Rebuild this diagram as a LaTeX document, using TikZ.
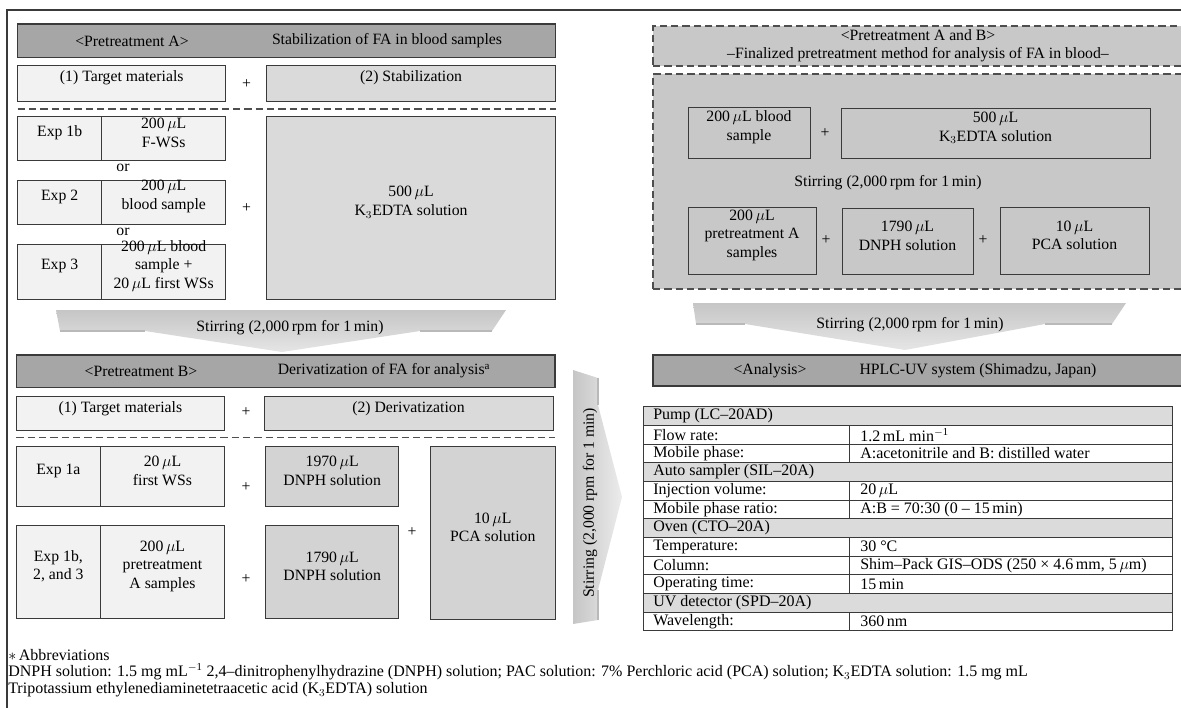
\documentclass[tikz,border=0pt]{standalone}
\usepackage{fontspec}
\setmainfont{Liberation Serif}
\usetikzlibrary{fit}
\definecolor{hdr}{HTML}{A6A6A6}
\definecolor{lite}{HTML}{F2F2F2}
\definecolor{mid}{HTML}{DADADA}
\definecolor{midd}{HTML}{D3D3D3}
\definecolor{panel}{HTML}{C8C8C8}
\definecolor{rowg}{HTML}{DBDBDB}
\definecolor{edge}{HTML}{3A3A3A}
\newcommand\muL{\,$\mu$L}
\begin{document}
\begin{tikzpicture}[x=0.75pt,y=-0.75pt,
  font=\fontsize{11.8}{14}\selectfont,
  bx/.style={draw=edge, line width=0.75pt, inner sep=0pt, align=center},
  hdrbox/.style={bx, fill=hdr, line width=0.9pt},
  litebox/.style={bx, fill=lite},
  midbox/.style={bx, fill=mid},
  darkbox/.style={bx, fill=midd},
  openbox/.style={bx},
  dashbox/.style={draw=edge!90, line width=0.9pt, dash pattern=on 5.5pt off 3pt, fill=panel, inner sep=0pt},
  sepline/.style={draw=edge!90, line width=0.9pt, dash pattern=on 5.5pt off 3pt},
  txt/.style={inner sep=0pt, align=center},
  cell/.style={inner sep=0pt, anchor=west, font=\fontsize{12}{14}\selectfont},
  wing/.style={draw=gray!55, line width=1.2pt},
  tline/.style={draw=edge, line width=0.6pt}
]
\useasboundingbox (0,0) rectangle (1181,707);
\clip (0,0) rectangle (1181,707);

% frame
\draw[edge, line width=0.9pt] (7,712) -- (7,10) -- (1190,10);

% ---------- Pretreatment A ----------
\node[hdrbox, fit={(17.7,24) (555.8,57.7)}] (hA) {};
\node[txt] (hAl) at (132,41) {<Pretreatment A>};
\node[txt] (hAr) at (387,41) {Stabilization of FA in blood samples};
\node[litebox, fit={(17.7,65.7) (225.8,101)}] (tmA) {(1) Target materials};
\node[txt] (pA1) at (246.5,84) {+};
\node[midbox, fit={(266.4,65.7) (555.8,101)}] (stA) {(2) Stabilization};
\draw[sepline] (17.7,109) -- (555.8,109);
\node[litebox, fit={(17.7,116) (101.6,160)}] (e1b) {Exp 1b};
\node[litebox, fit={(101.6,116) (225.8,160)}] (e1bv) {200\muL\\F-WSs};
\node[txt] (or1) at (123,168) {or};
\node[litebox, fit={(17.7,180) (101.6,224)}] (e2) {Exp 2};
\node[litebox, fit={(101.6,180) (225.8,224)}] (e2v) {200\muL\\blood sample};
\node[txt] (or2) at (123,232) {or};
\node[litebox, fit={(17.7,244) (101.6,299)}] (e3) {Exp 3};
\node[litebox, fit={(101.6,244) (225.8,299)}] (e3v) {200\muL{} blood\\sample +\\20\muL{} first WSs};
\node[txt] (pA2) at (246.5,208) {+};
\node[midbox, fit={(266.4,116) (555.8,299)}] (k3A) {500\muL\\K$_3$EDTA solution};

% chevron 1
\shade[top color=gray!45, middle color=white, bottom color=gray!20]
  (56,310) -- (506,310) -- (492,331) -- (420,331) -- (282,352) -- (145,331) -- (60,331) -- cycle;
\draw[wing] (60,331) -- (145,331);
\draw[wing] (420,331) -- (492,331);
\node[txt] (st1) at (290,328) {Stirring (2,000\,rpm for 1\,min)};

% ---------- Pretreatment B ----------
\node[hdrbox, fit={(16.3,355) (555,387.3)}] (hB) {};
\node[txt] (hBl) at (141,371) {<Pretreatment B>};
\node[txt] (hBr) at (384,371) {Derivatization of FA for analysis\textsuperscript{a}};
\node[litebox, fit={(16.3,396.7) (224.5,430.7)}] (tmB) {(1) Target materials};
\node[txt] (pB1) at (246,412) {+};
\node[midbox, fit={(264,396.7) (553,430.7)}] (dvB) {(2) Derivatization};
\draw[sepline] (16.3,437.3) -- (555,437.3);
\node[litebox, fit={(16.3,446) (100.4,506.7)}] (e1a) {Exp 1a};
\node[litebox, fit={(100.4,446) (224.5,506.7)}] (e1av) {20\muL\\first WSs};
\node[litebox, fit={(16.3,525) (100.4,618.3)}] (e123) {Exp 1b,\\2, and 3};
\node[litebox, fit={(100.4,525) (224.5,618.3)}] (e123v) {200\muL\\pretreatment\\A samples};
\node[txt] (pB2) at (246,487) {+};
\node[txt] (pB3) at (246,579) {+};
\node[darkbox, fit={(265.7,446) (398.7,506.7)}] (dn1) {1970\muL\\DNPH solution};
\node[darkbox, fit={(265.7,525) (398.7,618.3)}] (dn2) {1790\muL\\DNPH solution};
\node[txt] (pB4) at (412,532) {+};
\node[darkbox, fit={(430.5,446) (555,619)}] (pcaB) {10\muL\\PCA solution};

% vertical chevron
\shade[left color=gray!45, middle color=white, right color=gray!15]
  (573,370) -- (598,378) -- (598,405) -- (622,497) -- (598,590) -- (598,620) -- (573,624) -- cycle;
\draw[wing] (598,378) -- (598,405);
\draw[wing] (598,590) -- (598,620);
\node[txt, rotate=90] (st2) at (590,503) {Stirring (2,000 rpm for 1 min)};

% ---------- Pretreatment A and B ----------
\node[dashbox, fit={(653,26) (1184,66)}] (hAB) {};
\node[txt] (hAB1) at (918,35) {<Pretreatment A and B>};
\node[txt] (hAB2) at (918,55) {–Finalized pretreatment method for analysis of FA in blood–};
\node[dashbox, fit={(653,74) (1184,289)}] (pAB) {};
\node[openbox, fit={(688,107) (810,158)}] (b1) {200\muL{} blood\\sample};
\node[txt] (pC1) at (825,133) {+};
\node[openbox, fit={(841,108) (1150,158)}] (b2) {500\muL\\K$_3$EDTA solution};
\node[txt] (stIn) at (888,183) {Stirring (2,000\,rpm for 1\,min)};
\node[openbox, fit={(688,207) (816,274)}] (c1) {200\muL\\pretreatment A\\samples};
\node[txt] (pC2) at (826,240) {+};
\node[openbox, fit={(842,208) (973,274)}] (c2) {1790\muL\\DNPH solution};
\node[txt] (pC3) at (983,240) {+};
\node[openbox, fit={(1000,207) (1149,274)}] (c3) {10\muL\\PCA solution};

% chevron 3
\shade[top color=gray!45, middle color=white, bottom color=gray!20]
  (693,303) -- (1126,303) -- (1112,324) -- (1045,324) -- (905,350) -- (745,324) -- (696,324) -- cycle;
\draw[wing] (696,324) -- (745,324);
\draw[wing] (1045,324) -- (1112,324);
\node[txt] (st3) at (910,325) {Stirring (2,000\,rpm for 1\,min)};

% ---------- Analysis ----------
\node[hdrbox, fit={(653,355) (1185,386)}] (hAn) {};
\node[txt] (hAn1) at (770,371) {<Analysis>};
\node[txt] (hAn2) at (978,371) {HPLC-UV system (Shimadzu, Japan)};

% table
\fill[rowg] (643.3,406.7) rectangle (1172.8,425.3);
\fill[rowg] (643.3,462.7) rectangle (1172.8,481.3);
\fill[rowg] (643.3,518.7) rectangle (1172.8,537.3);
\fill[rowg] (643.3,593.3) rectangle (1172.8,612);
\foreach \yy in {425.3,444,462.7,481.3,500,518.7,537.3,556,574.7,593.3,612}
  \draw[tline] (643.3,\yy) -- (1172.8,\yy);
\draw[tline] (849,425.3) -- (849,462.7);
\draw[tline] (849,481.3) -- (849,518.7);
\draw[tline] (849,537.3) -- (849,593.3);
\draw[tline] (849,612) -- (849,630.7);
\draw[draw=edge, line width=0.9pt] (643.3,406.7) rectangle (1172.8,630.7);

\node[cell] (r0) at (653,416) {Pump (LC–20AD)};
\node[cell] (r1) at (653,434.7) {Flow rate:};
\node[cell] (v1) at (860,434.7) {1.2\,mL min\textsuperscript{$-$1}};
\node[cell] (r2) at (653,453.3) {Mobile phase:};
\node[cell] (v2) at (860,453.3) {A:acetonitrile and B: distilled water};
\node[cell] (r3) at (653,472) {Auto sampler (SIL–20A)};
\node[cell] (r4) at (653,490.7) {Injection volume:};
\node[cell] (v4) at (860,490.7) {20\muL};
\node[cell] (r5) at (653,509.3) {Mobile phase ratio:};
\node[cell] (v5) at (860,509.3) {A:B = 70:30 (0 – 15\,min)};
\node[cell] (r6) at (653,528) {Oven (CTO–20A)};
\node[cell] (r7) at (653,546.7) {Temperature:};
\node[cell] (v7) at (860,546.7) {30 °C};
\node[cell] (r8) at (653,565.3) {Column:};
\node[cell] (v8) at (860,565.3) {Shim–Pack GIS–ODS (250 × 4.6\,mm, 5\,$\mu$m)};
\node[cell] (r9) at (653,584) {Operating time:};
\node[cell] (v9) at (860,584) {15\,min};
\node[cell] (r10) at (653,602.7) {UV detector (SPD–20A)};
\node[cell] (r11) at (653,621.3) {Wavelength:};
\node[cell] (v11) at (860,621.3) {360\,nm};

% footnote
\node[cell] (fn1) at (8,655) {$\ast$\,Abbreviations};
\node[cell] (fn2) at (8,672) {DNPH solution: 1.5 mg mL\textsuperscript{$-$1} 2,4–dinitrophenylhydrazine (DNPH) solution; PAC solution: 7\% Perchloric acid (PCA) solution; K$_3$EDTA solution: 1.5 mg mL};
\node[cell] (fn3) at (8,690) {Tripotassium ethylenediaminetetraacetic acid (K$_3$EDTA) solution};
\end{tikzpicture}
\end{document}
